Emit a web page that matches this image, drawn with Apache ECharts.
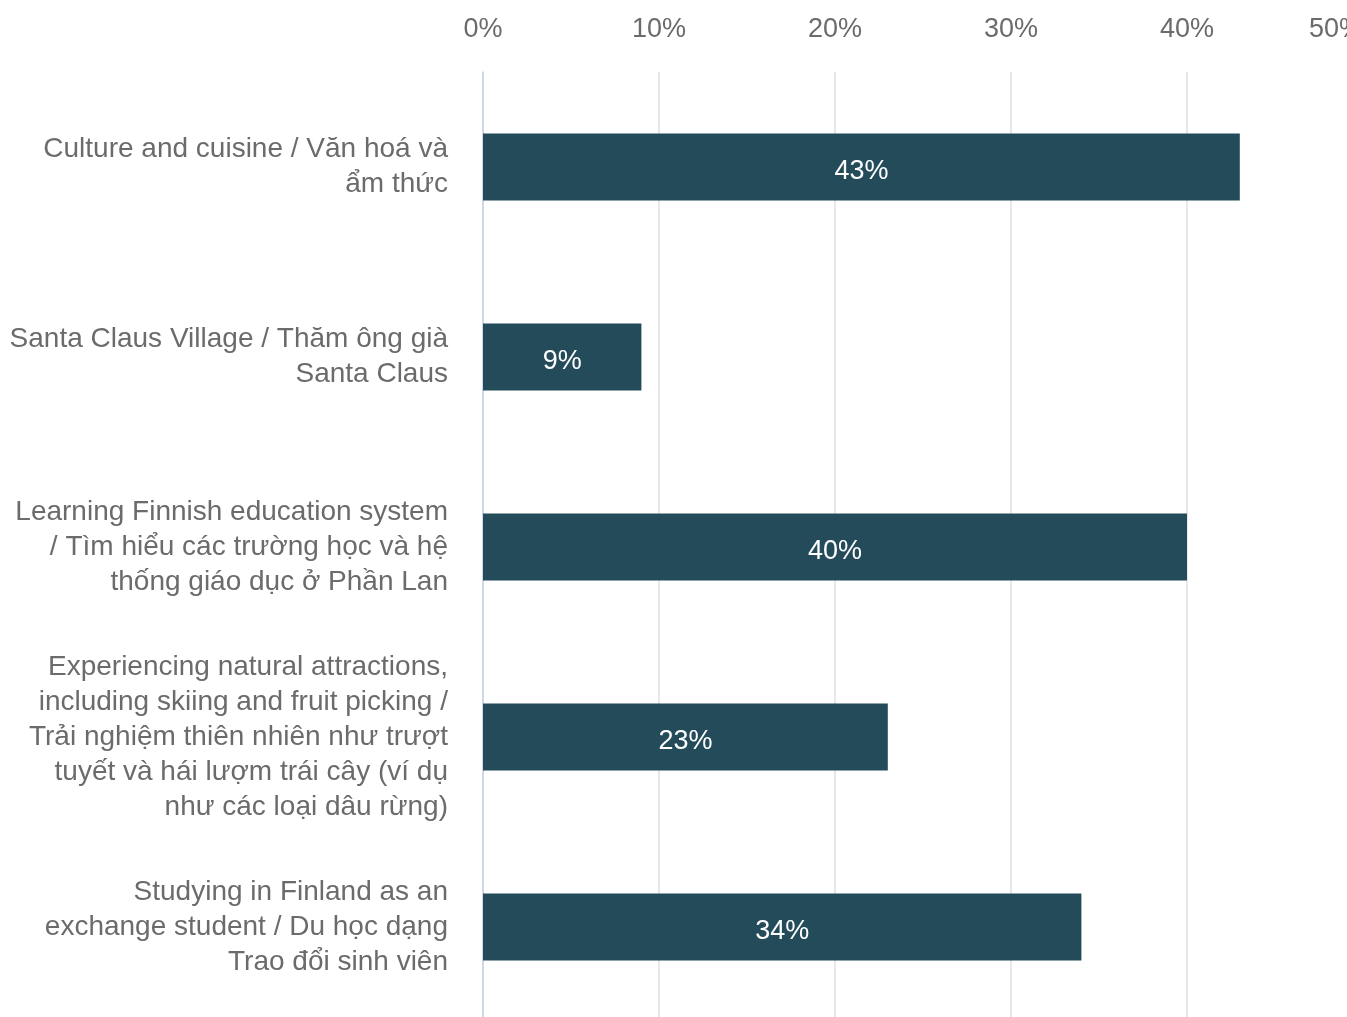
<!DOCTYPE html>
<html>
<head>
<meta charset="utf-8">
<style>
  html, body { margin: 0; padding: 0; background: #ffffff; }
  #chart { width: 1347px; height: 1017px; }
</style>
<script src="https://cdn.jsdelivr.net/npm/echarts@6/dist/echarts.min.js"></script>
</head>
<body>
<div id="chart"></div>
<script>
// Activity categories (top to bottom), with line breaks as displayed
const categories = [
  'Culture and cuisine / Văn hoá và\nẩm thức',
  'Santa Claus Village / Thăm ông già\nSanta Claus',
  'Learning Finnish education system\n/ Tìm hiểu các trường học và hệ\nthống giáo dục ở Phần Lan',
  'Experiencing natural attractions,\nincluding skiing and fruit picking /\nTrải nghiệm thiên nhiên như trượt\ntuyết và hái lượm trái cây (ví dụ\nnhư các loại dâu rừng)',
  'Studying in Finland as an\nexchange student / Du học dạng\nTrao đổi sinh viên'
];

// Share of respondents (%)
const shares = [43, 9, 40, 23, 34];

// Percentage axis range
const axisMin = 0;
const axisMax = 50;
const axisStep = 10;

const FONT = '"Liberation Sans", Arial, sans-serif';

const chart = echarts.init(document.getElementById('chart'));

chart.setOption({
  animation: false,
  backgroundColor: '#ffffff',
  textStyle: { fontFamily: FONT },
  grid: {
    left: 483,
    top: 72,
    width: 880,
    height: 950,
    containLabel: false,
    outerBoundsMode: 'none'
  },
  xAxis: {
    type: 'value',
    position: 'top',
    min: axisMin,
    max: axisMax,
    interval: axisStep,
    axisLine: { show: false },
    axisTick: { show: false },
    axisLabel: {
      formatter: '{value}%',
      color: '#6b6b6b',
      fontSize: 27,
      margin: 29,
      alignMaxLabel: 'right',
      fontFamily: FONT
    },
    splitLine: { show: true, lineStyle: { color: '#e0e0e0', width: 1.5 } }
  },
  yAxis: {
    type: 'category',
    data: categories,
    inverse: true,
    axisLine: { show: true, lineStyle: { color: '#c8d2ee', width: 1.5 } },
    axisTick: { show: false },
    axisLabel: {
      color: '#6b6b6b',
      fontSize: 28,
      lineHeight: 35,
      margin: 35,
      padding: [4, 0, 0, 0],
      align: 'right',
      fontFamily: FONT
    },
    splitLine: { show: false }
  },
  series: [{
    type: 'bar',
    data: shares,
    barWidth: 67,
    itemStyle: { color: '#234b5a' },
    label: {
      show: true,
      position: 'inside',
      offset: [0, 5],
      formatter: '{c}%',
      color: '#ffffff',
      fontSize: 27,
      fontFamily: FONT
    }
  }]
});
</script>
</body>
</html>
